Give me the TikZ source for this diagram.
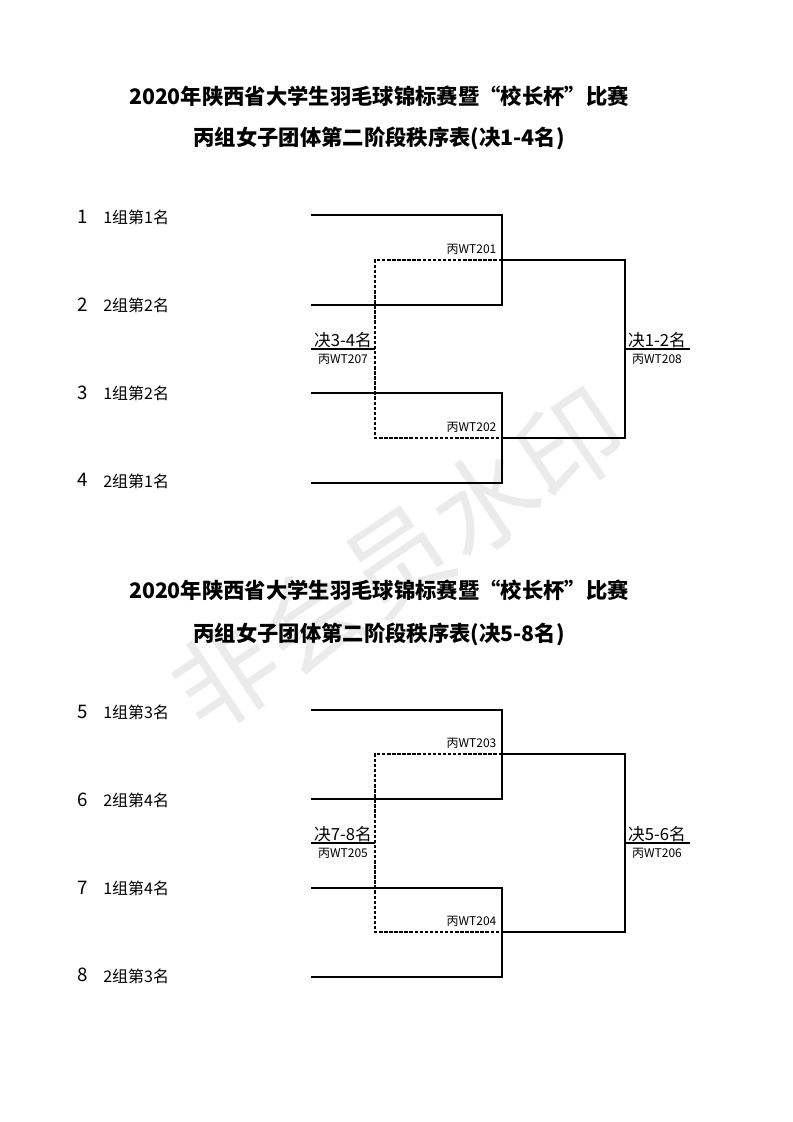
\documentclass[tikz,border=0pt]{standalone}
\usepackage{fontspec}
\setmainfont{Noto Sans CJK SC}
\providecommand{\bracketLineWidth}{1.7pt}
\providecommand{\thirdLineWidth}{1.2pt}
\providecommand{\wmColor}{black!8}
\tikzset{
  sheettitle/.style={font=\bfseries\fontsize{16}{19}\selectfont, inner sep=0pt},
  seedno/.style={font=\fontsize{14}{16}\selectfont, inner sep=0pt},
  seedname/.style={font=\fontsize{12}{14}\selectfont, inner sep=0pt, anchor=west},
  matchname/.style={font=\fontsize{12.5}{14}\selectfont, inner sep=1pt, anchor=south},
  matchcode/.style={font=\fontsize{9}{10}\selectfont, inner sep=0pt, anchor=north, yshift=-3.5pt},
  semicode/.style={font=\fontsize{9}{10}\selectfont, inner sep=0pt, anchor=south east, xshift=-4pt, yshift=4pt},
  bracketline/.style={draw=black, line width=\bracketLineWidth},
  thirdline/.style={draw=black, line width=\thirdLineWidth, dash pattern=on 2.6pt off 1.2pt}
}
\begin{document}
\begin{tikzpicture}[x=0.75pt, y=-0.75pt, line join=miter]
\useasboundingbox (0,0) rectangle (793,1122);
% Watermark
\node[text=\wmColor, font=\fontsize{78}{80}\selectfont, rotate=34, inner sep=0pt] (wm) at (398,560) {非会员水印};
% ---------- Sheet 1: 1-4 ----------
\node[sheettitle] (t1a) at (379,96) {2020年陕西省大学生羽毛球锦标赛暨“校长杯”比赛};
\node[sheettitle] (t1b) at (379,138) {丙组女子团体第二阶段秩序表(决1-4名)};
% Seeds
\node[seedno] (s1) at (83,217) {1};
\node[seedname] (n1) at (103,217) {1组第1名};
\node[seedno] (s2) at (83,305) {2};
\node[seedname] (n2) at (103,305) {2组第2名};
\node[seedno] (s3) at (83,393) {3};
\node[seedname] (n3) at (103,393) {1组第2名};
\node[seedno] (s4) at (83,480) {4};
\node[seedname] (n4) at (103,481) {2组第1名};
% Bracket points
\coordinate (a1) at (311,215);
\coordinate (a2) at (311,305);
\coordinate (a3) at (311,393);
\coordinate (a4) at (311,483);
\coordinate (a2e) at (502,305);
\coordinate (a4e) at (502,483);
\coordinate (asf1) at (502,260);
\coordinate (asf2) at (502,438);
\coordinate (afb) at (625,438);
\coordinate (afm) at (625,349);
\coordinate (afe) at (690,349);
\coordinate (atb) at (375,438);
\coordinate (atm) at (375,349);
\coordinate (ate) at (311,349);
% Third place (dashed)
\draw[thirdline] (asf1) -| (atb) -- (asf2);
\draw[bracketline] (atm) -- (ate);
% Semifinals and final
\draw[bracketline] (a1) -| (a2e) -- (a2);
\draw[bracketline] (a3) -| (a4e) -- (a4);
\draw[bracketline] (asf1) -| (afb) -- (asf2);
\draw[bracketline] (afm) -- (afe);
% Match labels
\node[semicode] (m201) at (asf1) {丙WT201};
\node[semicode] (m202) at (asf2) {丙WT202};
\node[matchname] (f12) at (657,349) {决1-2名};
\node[matchcode] (m208) at (657,349) {丙WT208};
\node[matchname] (f34) at (343,349) {决3-4名};
\node[matchcode] (m207) at (343,349) {丙WT207};
% ---------- Sheet 2: 5-8 ----------
\node[sheettitle] (t2a) at (379,590) {2020年陕西省大学生羽毛球锦标赛暨“校长杯”比赛};
\node[sheettitle] (t2b) at (379,634) {丙组女子团体第二阶段秩序表(决5-8名)};
% Seeds
\node[seedno] (s5) at (83,712) {5};
\node[seedname] (n5) at (103,712) {1组第3名};
\node[seedno] (s6) at (83,800) {6};
\node[seedname] (n6) at (103,800) {2组第4名};
\node[seedno] (s7) at (83,888) {7};
\node[seedname] (n7) at (103,888) {1组第4名};
\node[seedno] (s8) at (83,975) {8};
\node[seedname] (n8) at (103,976) {2组第3名};
% Bracket points
\coordinate (b1) at (311,710);
\coordinate (b2) at (311,799);
\coordinate (b3) at (311,888);
\coordinate (b4) at (311,977);
\coordinate (b2e) at (502,799);
\coordinate (b4e) at (502,977);
\coordinate (bsf1) at (502,754);
\coordinate (bsf2) at (502,932);
\coordinate (bfb) at (625,932);
\coordinate (bfm) at (625,843);
\coordinate (bfe) at (690,843);
\coordinate (btb) at (375,932);
\coordinate (btm) at (375,843);
\coordinate (bte) at (311,843);
% Seventh place (dashed)
\draw[thirdline] (bsf1) -| (btb) -- (bsf2);
\draw[bracketline] (btm) -- (bte);
% Semifinals and final
\draw[bracketline] (b1) -| (b2e) -- (b2);
\draw[bracketline] (b3) -| (b4e) -- (b4);
\draw[bracketline] (bsf1) -| (bfb) -- (bsf2);
\draw[bracketline] (bfm) -- (bfe);
% Match labels
\node[semicode] (m203) at (bsf1) {丙WT203};
\node[semicode] (m204) at (bsf2) {丙WT204};
\node[matchname] (f56) at (657,843) {决5-6名};
\node[matchcode] (m206) at (657,843) {丙WT206};
\node[matchname] (f78) at (343,843) {决7-8名};
\node[matchcode] (m205) at (343,843) {丙WT205};
\end{tikzpicture}
\end{document}
